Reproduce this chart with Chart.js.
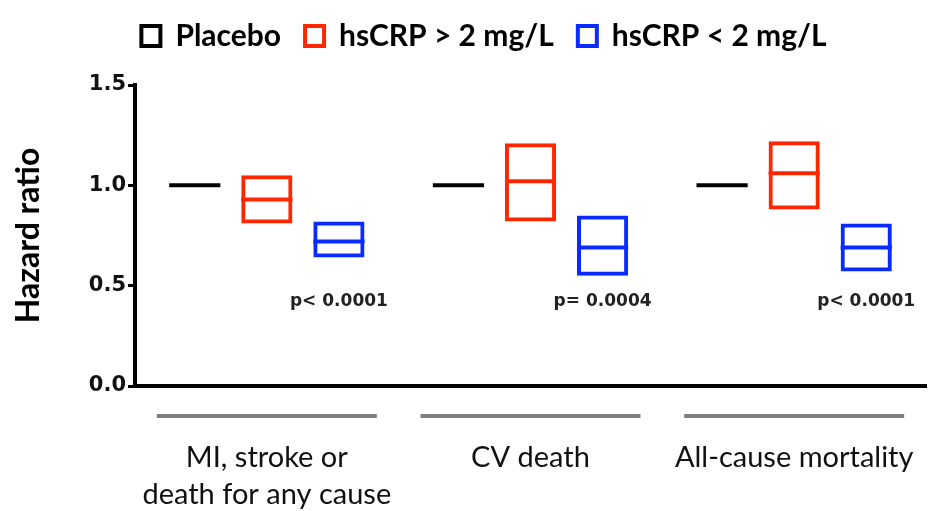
<!DOCTYPE html>
<html>
<head>
<meta charset="utf-8">
<script src="https://cdn.jsdelivr.net/npm/chart.js@4.4.0/dist/chart.umd.min.js"></script>
<style>
  html, body { margin: 0; padding: 0; background: #fff; }
  #wrap { width: 947px; height: 511px; }
</style>
</head>
<body>
<div id="wrap"><canvas id="chart"></canvas></div>
<script>
// Outcome groups on the x axis
const categories = [['MI, stroke or', 'death for any cause'], 'CV death', 'All-cause mortality'];

// Hazard ratios with 95% CI
const placeboHR = [1.0, 1.0, 1.0];
const highHR = [0.93, 1.02, 1.06];
const highLower = [0.81, 0.82, 0.88];
const highUpper = [1.05, 1.21, 1.22];
const lowHR = [0.72, 0.69, 0.69];
const lowLower = [0.64, 0.55, 0.57];
const lowUpper = [0.82, 0.85, 0.81];

const pValues = ['p< 0.0001', 'p= 0.0004', 'p< 0.0001'];
const pLabelAt = 0.42;
const yTicks = [0, 0.5, 1.0, 1.5];

const RED = '#ff2600';
const BLUE = '#0a2bff';

function boxData(lower, upper) {
    return lower.map((l, i) => [l, upper[i]]);
}

// horizontal line through each box at the point estimate
const midLines = {
    id: 'midLines',
    afterDatasetsDraw(chart) {
        const ctx = chart.ctx;
        const y = chart.scales.y;
        chart.data.datasets.forEach((ds, di) => {
            const meta = chart.getDatasetMeta(di);
            ctx.save();
            ctx.strokeStyle = ds.borderColor;
            ctx.lineWidth = 4;
            meta.data.forEach((bar, i) => {
                const py = y.getPixelForValue(ds.mids[i]);
                ctx.beginPath();
                ctx.moveTo(bar.x - bar.width / 2, py);
                ctx.lineTo(bar.x + bar.width / 2, py);
                ctx.stroke();
            });
            ctx.restore();
        });

        // p-values under the blue boxes
        const meta = chart.getDatasetMeta(2);
        const py = y.getPixelForValue(pLabelAt);
        ctx.save();
        ctx.font = 'bold 17px "DejaVu Sans"';
        ctx.fillStyle = '#222';
        ctx.textAlign = 'center';
        ctx.textBaseline = 'middle';
        meta.data.forEach((bar, i) => ctx.fillText(pValues[i], bar.x, py));
        ctx.restore();
    },
    afterDraw(chart) {
        // grey bars above the category labels
        const ctx = chart.ctx;
        const xs = chart.scales.x;
        ctx.save();
        ctx.strokeStyle = '#7f7f7f';
        ctx.lineWidth = 4;
        xs.ticks.forEach((t, i) => {
            const cx = xs.getPixelForTick(i);
            ctx.beginPath();
            ctx.moveTo(cx - 110, xs.top + 30);
            ctx.lineTo(cx + 110, xs.top + 30);
            ctx.stroke();
        });
        ctx.restore();
    }
};

// extra room between legend and plot
const legendGap = {
    id: 'legendGap',
    afterInit(chart) {
        const legend = chart.legend;
        const fit = legend.fit.bind(legend);
        legend.fit = function () {
            fit();
            this.height += 24;
        };
    }
};

new Chart(document.getElementById('chart').getContext('2d'), {
    type: 'bar',
    data: {
        labels: categories,
        datasets: [
            {
                label: 'Placebo',
                data: boxData(placeboHR, placeboHR),
                mids: placeboHR,
                borderColor: '#000',
                backgroundColor: 'rgba(0,0,0,0)',
                borderWidth: 0
            },
            {
                label: 'hsCRP > 2 mg/L',
                data: boxData(highLower, highUpper),
                mids: highHR,
                borderColor: RED,
                backgroundColor: 'rgba(0,0,0,0)',
                borderWidth: 4,
                borderSkipped: false
            },
            {
                label: 'hsCRP < 2 mg/L',
                data: boxData(lowLower, lowUpper),
                mids: lowHR,
                borderColor: BLUE,
                backgroundColor: 'rgba(0,0,0,0)',
                borderWidth: 4,
                borderSkipped: false
            }
        ]
    },
    options: {
        responsive: true,
        maintainAspectRatio: false,
        animation: false,
        categoryPercentage: 0.82,
        barPercentage: 0.71,
        layout: { padding: { left: 42, right: 21, top: -3, bottom: 0 } },
        plugins: {
            tooltip: { enabled: false },
            legend: {
                position: 'top',
                labels: {
                    boxWidth: 19,
                    boxHeight: 20,
                    padding: 24,
                    color: '#000',
                    font: { family: 'Lato', weight: 'bold', size: 30 },
                    generateLabels: (chart) => chart.data.datasets.map((ds, i) => ({
                        text: ds.label,
                        fillStyle: 'rgba(0,0,0,0)',
                        strokeStyle: ds.borderColor,
                        lineWidth: 4,
                        hidden: false,
                        datasetIndex: i,
                        fontColor: '#000'
                    }))
                }
            }
        },
        scales: {
            x: {
                grid: { display: false, drawTicks: true, tickLength: 52 },
                border: { display: true, color: '#000', width: 4 },
                ticks: {
                    padding: 2,
                    maxRotation: 0,
                    autoSkip: false,
                    color: '#111',
                    font: { family: 'Lato', size: 29, lineHeight: 1.25 }
                },
                afterFit: (s) => { s.height = 125; }
            },
            y: {
                min: 0,
                max: 1.5,
                afterBuildTicks: (s) => { s.ticks = yTicks.map(v => ({ value: v })); },
                grid: { drawOnChartArea: false, drawTicks: true, tickLength: 7, color: '#000', lineWidth: 3 },
                border: { display: true, color: '#000', width: 4 },
                ticks: {
                    padding: 2,
                    color: '#111',
                    font: { family: 'DejaVu Sans', weight: 'bold', size: 21 },
                    callback: (v) => Number(v).toFixed(1)
                },
                title: {
                    display: true,
                    text: 'Hazard ratio',
                    color: '#000',
                    font: { family: 'Lato', weight: 'bold', size: 32 },
                    padding: { top: -33, bottom: 0 }
                },
                afterFit: (s) => { s.width = 93; }
            }
        }
    },
    plugins: [midLines, legendGap]
});
</script>
</body>
</html>
